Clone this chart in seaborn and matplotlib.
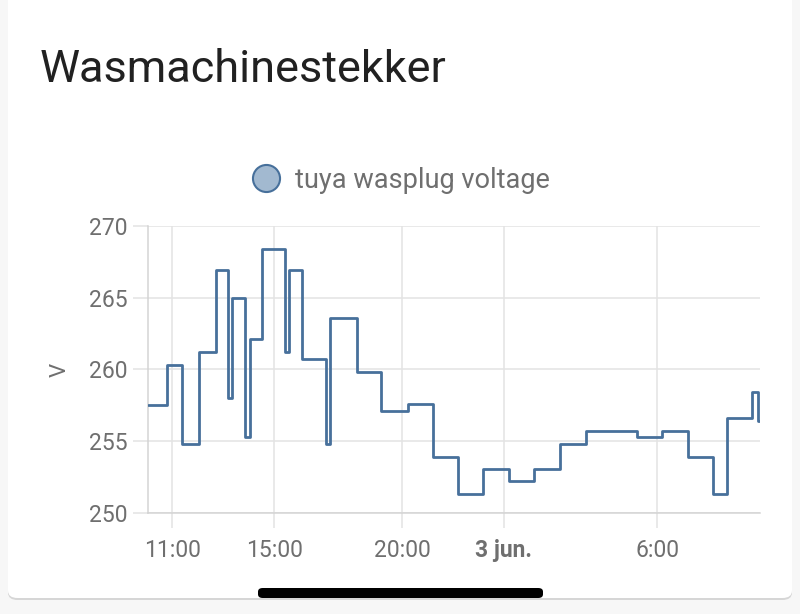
import matplotlib
matplotlib.use('Agg')
import matplotlib.pyplot as plt
import matplotlib.patches as mpatches
from matplotlib.lines import Line2D
import seaborn as sns
import pandas as pd

# voltage readings (step changes) from 2 jun. 10:02 to 3 jun. 10:02
times = ['2021-06-02 10:02', '2021-06-02 10:48', '2021-06-02 11:24', '2021-06-02 12:02',
         '2021-06-02 12:43', '2021-06-02 13:12', '2021-06-02 13:21', '2021-06-02 13:52',
         '2021-06-02 14:02', '2021-06-02 14:31', '2021-06-02 15:26', '2021-06-02 15:35',
         '2021-06-02 16:06', '2021-06-02 17:01', '2021-06-02 17:11', '2021-06-02 18:14',
         '2021-06-02 19:12', '2021-06-02 20:14', '2021-06-02 21:13', '2021-06-02 22:12',
         '2021-06-02 23:11', '2021-06-03 00:12', '2021-06-03 01:11', '2021-06-03 02:12',
         '2021-06-03 03:12', '2021-06-03 05:12', '2021-06-03 06:12', '2021-06-03 07:12',
         '2021-06-03 08:12', '2021-06-03 08:44', '2021-06-03 09:43', '2021-06-03 09:58',
         '2021-06-03 10:02']
voltage = [257.5, 260.3, 254.8, 261.2, 266.9, 258.0, 265.0, 255.3,
           262.1, 268.4, 261.2, 266.9, 260.7, 254.8, 263.6, 259.8,
           257.1, 257.6, 253.9, 251.3, 253.1, 252.2, 253.1, 254.8,
           255.7, 255.3, 255.7, 253.9, 251.3, 256.6, 258.4, 256.4,
           256.4]

tick_times = ['2021-06-02 11:00', '2021-06-02 15:00', '2021-06-02 20:00',
              '2021-06-03 00:00', '2021-06-03 06:00']
tick_labels = ['11:00', '15:00', '20:00', '3 jun.', '6:00']
y_ticks = [250, 255, 260, 265, 270]

title = 'Wasmachinestekker'
series_name = 'tuya wasplug voltage'
unit = 'V'

line_color = '#47709b'
grid_color = '#e3e3e3'
text_grey = '#6f6f6f'

sns.set_theme(style='white')
plt.rcParams['font.family'] = ['Roboto', 'DejaVu Sans']

df = pd.DataFrame({'time': pd.to_datetime(times), 'voltage': voltage})

fig = plt.figure(figsize=(8, 6.14), dpi=100)
fig.patch.set_facecolor('#f7f7f7')

W, H = 800, 614
# card shadow + card (behind the axes)
shadow = mpatches.FancyBboxPatch((8 / W, 14 / H), 784 / W, (614 - 4) / H,
                                 boxstyle='round,pad=0,rounding_size=0.012',
                                 transform=fig.transFigure, facecolor='#d6d6d6',
                                 edgecolor='none', zorder=-2)
card = mpatches.FancyBboxPatch((8 / W, 16 / H), 784 / W, (614 - 8) / H,
                               boxstyle='round,pad=0,rounding_size=0.012',
                               transform=fig.transFigure, facecolor='white',
                               edgecolor='none', zorder=-1)
fig.patches.extend([shadow, card])

ax = fig.add_axes([148 / W, 1 - 513 / H, (760 - 148) / W, (513 - 226) / H])
ax.set_facecolor('none')

sns.lineplot(data=df, x='time', y='voltage', ax=ax, color=line_color,
             drawstyle='steps-post', linewidth=2.0, zorder=3)

ax.set_xlim(pd.Timestamp('2021-06-02 10:03'), pd.Timestamp('2021-06-03 10:02'))
ax.set_ylim(250, 270)

ax.set_xticks(pd.to_datetime(tick_times))
ax.set_xticklabels(tick_labels)
ax.set_yticks(y_ticks)
ax.set_yticklabels([str(v) for v in y_ticks])
for lbl in ax.get_xticklabels():
    if lbl.get_text() == '3 jun.':
        lbl.set_fontweight('bold')

ax.grid(True, color=grid_color, linewidth=1.1)
ax.tick_params(axis='both', length=11, width=1.1, color=grid_color,
               labelcolor=text_grey, labelsize=16.5)
ax.tick_params(axis='x', pad=7.5)
ax.tick_params(axis='y', pad=4)
ax.tick_params(bottom=True, left=True)

for side in ['top', 'right']:
    ax.spines[side].set_visible(False)
for side in ['left', 'bottom']:
    ax.spines[side].set_color('#d4d4d4')
    ax.spines[side].set_linewidth(1.1)

ax.set_xlabel('')
ax.set_ylabel(unit, fontsize=16, color=text_grey, labelpad=13)

handle = Line2D([], [], marker='o', linestyle='', markersize=19.5,
                markerfacecolor='#a2b9d0', markeredgecolor=line_color,
                markeredgewidth=1.5)
fig.legend([handle], [series_name], loc='center', bbox_to_anchor=(0.5, 1 - 180 / H),
           frameon=False, fontsize=19.5, labelcolor=text_grey, handletextpad=0.45,
           handlelength=1.2)

fig.text(40 / W, 1 - 70 / H, title, fontsize=32.5, color='#212121', va='center', ha='left')

# home indicator bar
bar = mpatches.FancyBboxPatch((258 / W, 1 - 598 / H), 285 / W, 10 / H,
                              boxstyle='round,pad=0,rounding_size=0.006',
                              transform=fig.transFigure, facecolor='black',
                              edgecolor='none', zorder=5)
fig.patches.append(bar)

fig.savefig('out.png', dpi=100, facecolor=fig.get_facecolor())
